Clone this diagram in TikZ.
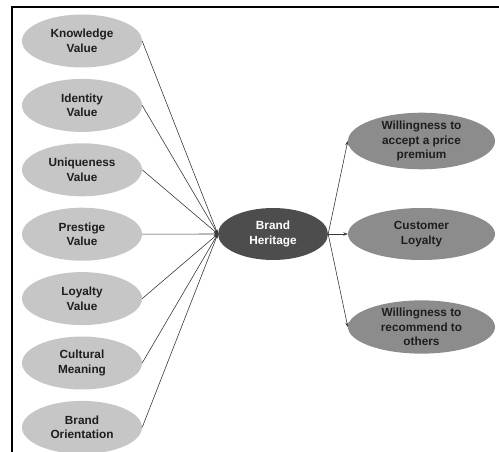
\documentclass[tikz,border=0pt]{standalone}
\usepackage{fontspec}
\setmainfont{Liberation Sans}
\usetikzlibrary{positioning,arrows.meta,shapes.geometric}
\definecolor{lightgrey}{HTML}{C6C6C6}
\definecolor{midgrey}{HTML}{8C8C8C}
\definecolor{darkgrey}{HTML}{4D4D4D}
\definecolor{linegrey}{HTML}{3A3A3A}
\definecolor{textgrey}{HTML}{1E1E1E}
\tikzset{
	factor/.style={
		ellipse, fill=lightgrey, minimum width=120pt, minimum height=53pt,
		inner sep=0pt, align=center, text=textgrey,
		font=\bfseries\fontsize{11.8}{14.5}\selectfont
	},
	core/.style={
		ellipse, fill=darkgrey, minimum width=110pt, minimum height=52pt,
		inner sep=0pt, align=center, text=white,
		font=\bfseries\fontsize{11.8}{14.5}\selectfont
	},
	outcome/.style={
		ellipse, fill=midgrey, minimum width=147pt, minimum height=52pt,
		inner sep=0pt, align=center, text=textgrey,
		font=\bfseries\fontsize{11.8}{14.5}\selectfont
	},
	in_line/.style={linegrey, line width=0.6pt, -{Stealth[length=4pt,width=3.5pt]}},
	out_arrow/.style={linegrey, line width=0.6pt, -{Stealth[length=4.5pt,width=3.5pt]}}
}
\begin{document}
\begin{tikzpicture}[x=1pt,y=-1pt, node distance=11pt]
	\useasboundingbox (0,0) rectangle (499,452);
	\draw[line width=2pt] (12,452) -- (12,7) -- (499,7);
	\node[factor] (know) at (82,41) {Knowledge\\Value};
	\node[factor] (ident) [below=of know] {Identity\\Value};
	\node[factor] (uniq) [below=of ident] {Uniqueness\\Value};
	\node[factor] (prest) [below=of uniq] {Prestige\\Value};
	\node[factor] (loyal) [below=of prest] {Loyalty\\Value};
	\node[factor] (cult) [below=of loyal] {Cultural\\Meaning};
	\node[factor] (orient) [below=of cult] {Brand\\Orientation};
	\node[core] (heritage) at (273,234) {Brand\\Heritage};
	\node[outcome] (premium) at (421.5,141) {Willingness to\\accept a price\\premium};
	\node[outcome] (custloyal) at (421.5,234) {Customer\\Loyalty};
	\node[outcome] (recommend) at (421.5,327) {Willingness to\\recommend to\\others};
	\foreach \f in {know,ident,uniq,prest,loyal,cult,orient}
		\draw[in_line] (\f.east) -- (heritage.west);
	\draw[out_arrow] (heritage.east) -- (premium.west);
	\draw[out_arrow] (heritage.east) -- (custloyal.west);
	\draw[out_arrow] (heritage.east) -- (recommend.west);
\end{tikzpicture}
\end{document}
